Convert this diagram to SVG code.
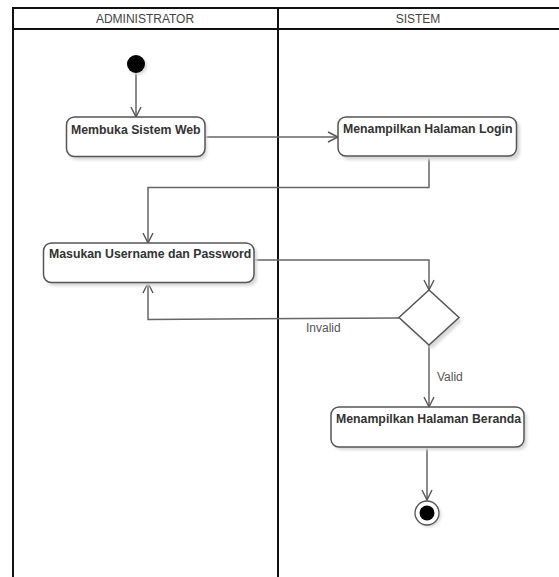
<svg xmlns="http://www.w3.org/2000/svg" width="559" height="577" viewBox="0 0 559 577">
  <style>
    .lane { stroke: #111; stroke-width: 2; fill: none; }
    .lane-title { font-family: "Liberation Sans", Arial, sans-serif; font-size: 12px; fill: #444; text-anchor: middle; }
    .act { fill: #fff; stroke: #555; stroke-width: 1.5; }
    .shadow { fill: #d8d8d8; filter: url(#soft); }
    .act-label { font-family: "Liberation Sans", Arial, sans-serif; font-size: 12.3px; font-weight: bold; fill: #333; }
    .flow { stroke: #666; stroke-width: 1.5; fill: none; marker-end: url(#open-arrow); }
    .guard { font-family: "Liberation Sans", Arial, sans-serif; font-size: 12px; fill: #555; }
  </style>
  <defs>
    <filter id="soft" x="-20%" y="-20%" width="140%" height="140%">
      <feGaussianBlur stdDeviation="1.5"/>
    </filter>
    <marker id="open-arrow" viewBox="0 0 12 12" refX="11" refY="6" markerWidth="12" markerHeight="12" markerUnits="userSpaceOnUse" orient="auto">
      <path d="M1,1 L11,6 L1,11" fill="none" stroke="#555" stroke-width="1.4"/>
    </marker>
  </defs>

  <rect width="559" height="577" fill="#fff"/>

  <!-- swimlanes -->
  <g id="lanes">
    <line class="lane" x1="13" y1="8" x2="559" y2="8"/>
    <line class="lane" x1="13" y1="29" x2="559" y2="29"/>
    <line class="lane" x1="13" y1="7" x2="13" y2="577"/>
    <line class="lane" x1="278" y1="7" x2="278" y2="577"/>
    <text class="lane-title" x="145" y="23">ADMINISTRATOR</text>
    <text class="lane-title" x="418" y="23">SISTEM</text>
  </g>

  <!-- connectors -->
  <g id="connectors">
    <path class="flow" d="M136,73 L136,117"/>
    <path class="flow" d="M205,137 L338,137"/>
    <path class="flow" d="M429,156 L429,187.5 L148,187.5 L148,243"/>
    <path class="flow" d="M254,260 L429,260 L429,290"/>
    <path class="flow" d="M399,318 L148,319.5 L148,283"/>
    <text class="guard" x="306" y="332">Invalid</text>
    <path class="flow" d="M429,345 L429,407"/>
    <text class="guard" x="437" y="381">Valid</text>
    <path class="flow" d="M427,447 L427,500"/>
  </g>

  <!-- start -->
  <g id="start">
    <circle cx="138" cy="66" r="9" class="shadow"/>
    <circle cx="136" cy="64" r="9" fill="#000"/>
  </g>

  <g id="membuka-sistem-web">
    <rect class="shadow" x="69" y="120" width="138" height="40" rx="8"/>
    <rect class="act" x="66.5" y="117" width="138.5" height="39.5" rx="8"/>
    <text class="act-label" x="71" y="134">Membuka Sistem Web</text>
  </g>

  <g id="halaman-login">
    <rect class="shadow" x="341" y="120" width="179" height="40" rx="8"/>
    <rect class="act" x="338" y="117" width="178.5" height="39" rx="8"/>
    <text class="act-label" x="343" y="133">Menampilkan Halaman Login</text>
  </g>

  <g id="masukan-username">
    <rect class="shadow" x="46" y="246" width="211" height="40" rx="8"/>
    <rect class="act" x="43.5" y="243" width="210.5" height="39.5" rx="8"/>
    <text class="act-label" x="49" y="258">Masukan Username dan Password</text>
  </g>

  <g id="keputusan">
    <path class="shadow" d="M432,293 L462,321 L432,349 L402,321 Z"/>
    <path class="act" d="M429,290 L459,317.5 L429,345 L399,317.5 Z"/>
  </g>

  <g id="halaman-beranda">
    <rect class="shadow" x="334" y="410" width="193" height="40" rx="8"/>
    <rect class="act" x="331" y="407" width="193" height="40" rx="8"/>
    <text class="act-label" x="336" y="423">Menampilkan Halaman Beranda</text>
  </g>

  <!-- end -->
  <g id="end">
    <circle cx="429" cy="515" r="12" class="shadow"/>
    <circle cx="427" cy="513" r="12" fill="#fff" stroke="#555" stroke-width="1.3"/>
    <circle cx="427" cy="513" r="7.5" fill="#000"/>
  </g>
</svg>
